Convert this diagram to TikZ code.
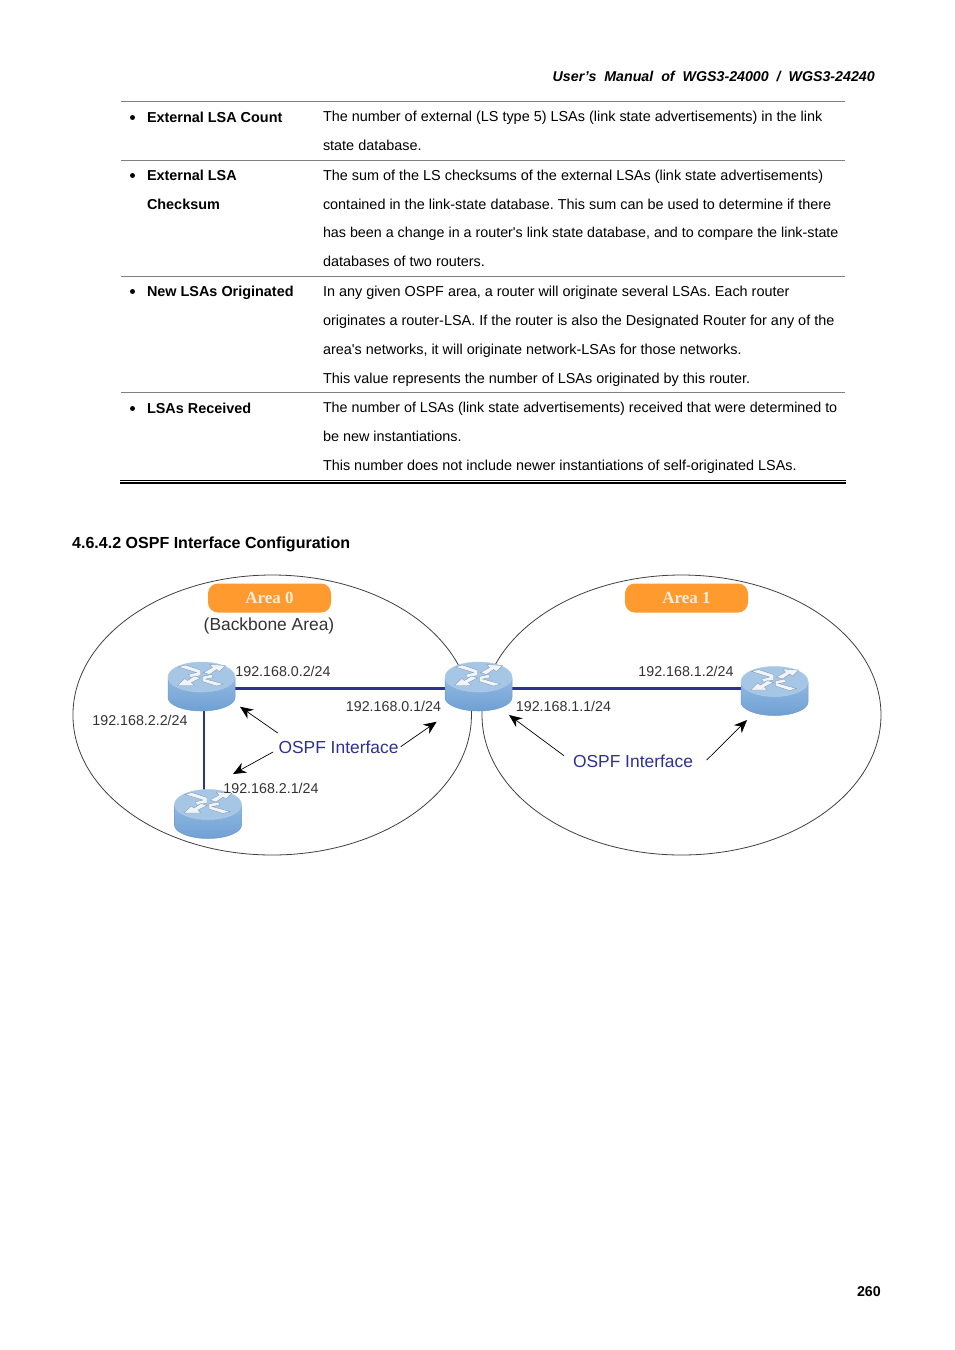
\documentclass[tikz,border=0pt]{standalone}
\usepackage{fontspec}
\setmainfont{Liberation Sans}[Ligatures=TeXOff]
\newfontfamily\areafont{Liberation Serif}
\usetikzlibrary{arrows.meta,shapes.geometric}
\AtBeginDocument{\frenchspacing}
\definecolor{rtop}{HTML}{A6C6E6}
\definecolor{rbodytop}{HTML}{92B9E2}
\definecolor{rbody}{HTML}{6FA0D3}
\definecolor{redge}{HTML}{6F9CCB}
\definecolor{rglyph}{HTML}{F0F4F8}
\definecolor{rshadow}{HTML}{7F98B2}
\definecolor{linkblue}{HTML}{2E3192}
\definecolor{areaorange}{HTML}{FF9A2E}
\definecolor{labelgrey}{HTML}{333333}
\definecolor{rulegrey}{HTML}{808080}
\tikzset{
  x=1pt,y=-1pt,
  body/.style={anchor=base west,inner sep=0pt,outer sep=0pt,font=\fontsize{14.42}{16}\selectfont,text=black},
  bodytight/.style={anchor=base west,inner sep=0pt,outer sep=0pt,font=\fontsize{14.3}{16}\selectfont,text=black},
  lead/.style={anchor=base west,inner sep=0pt,outer sep=0pt,font=\fontsize{14.42}{16}\selectfont\bfseries,text=black},
  dotbul/.style={circle,fill=black,inner sep=0pt,minimum size=5pt},
  tablerule/.style={draw=rulegrey,line width=0.8pt},
  area/.style={draw=black!75,line width=0.8pt},
  rslot/.style={inner sep=0pt,outer sep=0pt,minimum width=67pt,minimum height=49pt},
  link/.style={draw=linkblue,line width=2.8pt},
  call/.style={draw=black,line width=0.7pt,-{Stealth[length=13pt,width=11pt]}},
  addr/.style={inner sep=0pt,font=\fontsize{14.25}{16}\selectfont,text=labelgrey},
  ospf/.style={inner sep=0pt,font=\fontsize{17.4}{20}\selectfont,text=linkblue},
  areatag/.style={fill=areaorange,rounded corners=10pt,minimum width=123pt,minimum height=29pt,inner sep=0pt,text=white!85!orange,font=\areafont\fontsize{17}{18}\selectfont\bfseries},
  glyph/.style={fill=rglyph,draw=rshadow,line width=0.35pt},
}
\newcommand{\routerart}[2]{%
  \begin{scope}[shift={(#1,#2)}]
    \shade[top color=rbodytop,bottom color=rbody] (-33.5,-9) -- (-33.5,11) arc[start angle=180,end angle=0,x radius=33.5,y radius=13.5] -- (33.5,-9) -- cycle;
    \draw[redge,line width=0.5pt] (-33.5,-9) -- (-33.5,11) arc[start angle=180,end angle=0,x radius=33.5,y radius=13.5] -- (33.5,-9);
    \fill[rtop,draw=rtop!90!white,line width=0.5pt] (0,-9.5) ellipse[x radius=33.5,y radius=15];
    % upper-left arrow, tip at the centre
    \fill[glyph] (-1,-11) -- (-11,-9) -- (-13,-12) -- (-5,-14) -- (-23,-19.5) -- (-16,-21.5) -- (-1,-16.5) -- cycle;
    % upper-right arrow, tip outward
    \fill[glyph] (24,-21) -- (8,-22) -- (11,-19) -- (2,-14) -- (8,-12) -- (15,-17) -- (18,-15) -- cycle;
    % lower-left arrow, tip outward
    \fill[glyph] (-24,-1) -- (-7,-1) -- (-10,-4) -- (-1,-8.5) -- (-7,-10.5) -- (-14,-6) -- (-17,-8) -- cycle;
    % lower-right arrow, tip at the centre
    \fill[glyph] (1,-10) -- (10,-12) -- (12,-9) -- (4,-7.5) -- (22,-2.5) -- (15,-0.5) -- (1,-5) -- cycle;
  \end{scope}}
\begin{document}
\begin{tikzpicture}
\useasboundingbox (0,0) rectangle (954,1350);
\fill[white] (0,0) rectangle (954,1350);
% header
\node[anchor=base east,inner sep=0pt,font=\fontsize{14.23}{16}\selectfont\bfseries\itshape,text=black] (hdr) at (875,81) {User’s\ \ Manual\ \ of\ \ WGS3-24000\ \ /\ \ WGS3-24240};
% table rules
\coordinate (tl0) at (121,101.7);\coordinate (tr0) at (845,101.7);
\coordinate (tl1) at (121,160.3);\coordinate (tr1) at (845,160.3);
\coordinate (tl2) at (121,276.4);\coordinate (tr2) at (845,276.4);
\coordinate (tl3) at (121,392.4);\coordinate (tr3) at (845,392.4);
\coordinate (tl4) at (120,480.4);\coordinate (tr4) at (846,480.4);
\coordinate (tl5) at (120,483);\coordinate (tr5) at (846,483);
\draw[tablerule] (tl0) -- (tr0);
\draw[tablerule] (tl1) -- (tr1);
\draw[tablerule] (tl2) -- (tr2);
\draw[tablerule] (tl3) -- (tr3);
\draw[black,line width=0.9pt] (tl4) -- (tr4);
\draw[black,line width=2pt] (tl5) -- (tr5);
% row 1
\node[dotbul] (b1) at (132.5,117.5) {};
\node[lead] (l1) at (147,122) {External LSA Count};
\node[body] (t11) at (323,121.5) {The number of external (LS type 5) LSAs (link state advertisements) in the link};
\node[body] (t12) at (323,150.3) {state database.};
% row 2
\node[dotbul] (b2) at (132.5,175.5) {};
\node[lead] (l2) at (147,180) {External LSA};
\node[lead] (l2b) at (147,209) {Checksum};
\node[body] (t21) at (323,180) {The sum of the LS checksums of the external LSAs (link state advertisements)};
\node[body] (t22) at (323,209) {contained in the link-state database. This sum can be used to determine if there};
\node[bodytight] (t23) at (323,237.3) {has been a change in a router's link state database, and to compare the link-state};
\node[body] (t24) at (323,266) {databases of two routers.};
% row 3
\node[dotbul] (b3) at (132.5,291.5) {};
\node[lead] (l3) at (147,296) {New LSAs Originated};
\node[body] (t31) at (323,296) {In any given OSPF area, a router will originate several LSAs. Each router};
\node[body] (t32) at (323,325) {originates a router-LSA. If the router is also the Designated Router for any of the};
\node[body] (t33) at (323,354) {area's networks, it will originate network-LSAs for those networks.};
\node[body] (t34) at (323,383) {This value represents the number of LSAs originated by this router.};
% row 4
\node[dotbul] (b4) at (132.5,408.5) {};
\node[lead] (l4) at (147,413) {LSAs Received};
\node[bodytight] (t41) at (323,412.3) {The number of LSAs (link state advertisements) received that were determined to};
\node[body] (t42) at (323,441) {be new instantiations.};
\node[body] (t43) at (323,470) {This number does not include newer instantiations of self-originated LSAs.};
% section heading
\node[anchor=base west,inner sep=0pt,font=\fontsize{16.03}{18}\selectfont\bfseries] (sec) at (72,548) {4.6.4.2 OSPF Interface Configuration};
% areas
\node[area,ellipse,minimum width=398.5pt,minimum height=280pt,inner sep=0pt] (a0) at (272.2,715) {};
\node[area,ellipse,minimum width=399pt,minimum height=280pt,inner sep=0pt] (a1) at (681.5,715) {};
\node[areatag] (tag0) at (269.5,598) {Area 0};
\node[areatag] (tag1) at (686.5,598) {Area 1};
\node[inner sep=0pt,font=\fontsize{17.4}{20}\selectfont,text=labelgrey] (bb) at (269,626) {(Backbone Area)};
% routers (slots)
\node[rslot] (r1) at (201.5,686.5) {};
\node[rslot] (r2) at (478.5,686.5) {};
\node[rslot] (r3) at (208,814) {};
\node[rslot] (r4) at (774.5,691) {};
% links
\draw[link] ([yshift=-2pt]r1.east) -- ([yshift=-2pt]r2.west);
\draw[link] ([yshift=-2pt]r2.east) -- ([yshift=2.5pt]r4.west);
\draw[link] ([xshift=2.5pt]r1.south) -- ([xshift=-4pt]r3.north);
\routerart{201.5}{686.5}
\routerart{478.5}{686.5}
\routerart{208}{814}
\routerart{774.5}{691}
% address labels
\node[addr] (ip1) at (283,671) {192.168.0.2/24};
\node[addr] (ip2) at (393.5,706) {192.168.0.1/24};
\node[addr] (ip3) at (140,720) {192.168.2.2/24};
\node[addr] (ip4) at (271,788) {192.168.2.1/24};
\node[addr] (ip5) at (563.5,706) {192.168.1.1/24};
\node[addr] (ip6) at (686,671) {192.168.1.2/24};
% OSPF callouts
\node[ospf] (o0) at (338.5,747) {OSPF Interface};
\node[ospf] (o1) at (633,761) {OSPF Interface};
\coordinate (ca) at (277.7,733);\coordinate (cat) at (240,706.7);
\coordinate (cb) at (273,752);\coordinate (cbt) at (233,774);
\coordinate (cc) at (400.7,746.7);\coordinate (cct) at (436.7,721.7);
\coordinate (cd) at (564,755.7);\coordinate (cdt) at (509,715);
\coordinate (ce) at (706.7,760);\coordinate (cet) at (747,720);
\draw[call] (ca) -- (cat);
\draw[call] (cb) -- (cbt);
\draw[call] (cc) -- (cct);
\draw[call] (cd) -- (cdt);
\draw[call] (ce) -- (cet);
% page number
\node[anchor=base east,inner sep=0pt,font=\fontsize{14.23}{16}\selectfont\bfseries] (pg) at (881,1296) {260};
\end{tikzpicture}
\end{document}
